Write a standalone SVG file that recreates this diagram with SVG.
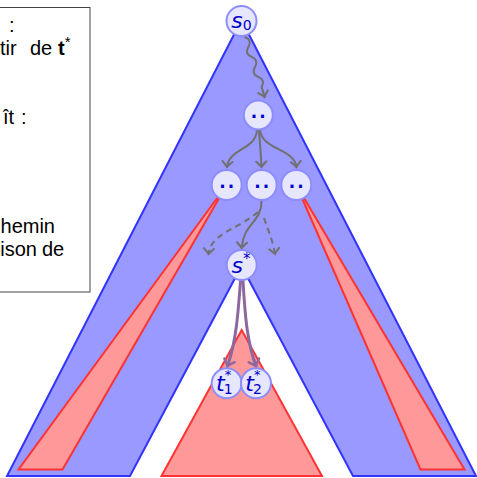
<svg xmlns="http://www.w3.org/2000/svg" width="477" height="478" viewBox="0 0 477 478">
<style>
.legend{font-family:"Liberation Sans",sans-serif;font-size:20px;fill:#000}
.node circle{fill:#e6e6ff;stroke:#8c8cff;stroke-width:2}
.lbl{font-family:"DejaVu Sans",sans-serif;font-size:22px;font-style:italic;fill:#0000cc}
.up{font-style:normal}
.dots{font-family:"DejaVu Sans",sans-serif;font-size:17px;fill:#0000cc;font-weight:bold;letter-spacing:2px}
.g{fill:none;stroke:#707070;stroke-width:2;stroke-linecap:round}
.p{fill:none;stroke:#8c68a0;stroke-width:3;stroke-linecap:round}
.dash{stroke-dasharray:6 4.5;stroke-linecap:butt}
.blue{fill:#9999ff;stroke:#3333ff;stroke-width:2;stroke-linejoin:miter}
.red{fill:#ff9999;stroke:#ff3333;stroke-width:2;stroke-linejoin:miter}
</style>
<defs>
<marker id="ag" viewBox="-7 -7 9 14" markerWidth="9" markerHeight="14" refX="0" refY="0" orient="auto" markerUnits="userSpaceOnUse">
<path d="M-5.5,-5 Q-1.5,-1 0,0 Q-1.5,1 -5.5,5" fill="none" stroke="#707070" stroke-width="2" stroke-linecap="round"/>
</marker>
<marker id="ap" viewBox="-8 -8 10 16" markerWidth="10" markerHeight="16" refX="0" refY="0" orient="auto" markerUnits="userSpaceOnUse">
<path d="M-6,-5.5 Q-1.5,-1 0,0 Q-1.5,1 -6,5.5" fill="none" stroke="#8c68a0" stroke-width="2.5" stroke-linecap="round"/>
</marker>
</defs>

<g id="legend">
<rect x="-10" y="7.5" width="100" height="284.5" fill="#fff" stroke="#444" stroke-width="1"/>
<text class="legend" x="9" y="32">:</text>
<text class="legend" y="55"><tspan x="0">tir</tspan><tspan x="30">de</tspan><tspan x="58" font-weight="bold">t</tspan><tspan font-size="15" dy="-8">*</tspan></text>
<text class="legend" y="124"><tspan x="14" text-anchor="end">ît</tspan><tspan x="21">:</tspan></text>
<text class="legend" x="55" y="232.5" text-anchor="end">hemin</text>
<text class="legend" y="255.5"><tspan x="37" text-anchor="end">ison</tspan><tspan x="42">de</tspan></text>
</g>

<g id="shapes">
<path class="blue" d="M241.5,20 L7,476 L130,476 L241.5,266 L353,476 L476,476 Z"/>
<path class="red" d="M226.7,185 L18.5,469.5 L62.5,469.5 Z"/>
<path class="red" d="M296.3,185 L464.5,469.5 L420.5,469.5 Z"/>
<path class="red" d="M241.7,330 L161.5,476 L322,476 Z"/>
</g>

<g id="connectors">
<path class="g" marker-end="url(#ag)" d="M245,37 Q252.35,40.08 248.32,46.96 T251.64,56.93 T254.95,66.89 T258.27,76.85 T261.59,86.82 L264.6,97"/>
<path class="g" marker-end="url(#ag)" d="M257,130 C256,150 229,148 227,167"/>
<path class="g" marker-end="url(#ag)" d="M259,130 C260,145 261,155 261.5,167"/>
<path class="g" marker-end="url(#ag)" d="M260,130 C262,150 294,148 296.5,167"/>
<path class="g" marker-end="url(#ag)" d="M261.5,201 C262,222 243,224 241.7,248"/>
<path class="g dash" marker-end="url(#ag)" d="M258,212 C240,228 210,234 208.5,254"/>
<path class="g dash" marker-end="url(#ag)" d="M264,218 C268,230 273,241 275,254"/>
<path class="p" marker-end="url(#ap)" d="M240.5,281 C238,315 236,342 227.5,366"/>
<path class="p" marker-end="url(#ap)" d="M243,281 C245,315 247,342 256,366"/>
</g>

<g id="n_s0" class="node">
<circle cx="241.5" cy="21" r="15"/>
<text class="lbl" x="241.5" y="27.5" text-anchor="middle">s<tspan class="up" font-size="14" dy="2.5">0</tspan></text>
</g>
<g id="n_a" class="node">
<circle cx="258.3" cy="115" r="14.5"/>
<text class="dots" x="259.3" y="118" text-anchor="middle">..</text>
</g>
<g id="n_b1" class="node">
<circle cx="226.7" cy="185" r="15"/>
<text class="dots" x="227.7" y="188" text-anchor="middle">..</text>
</g>
<g id="n_b2" class="node">
<circle cx="261.7" cy="185" r="15"/>
<text class="dots" x="262.7" y="188" text-anchor="middle">..</text>
</g>
<g id="n_b3" class="node">
<circle cx="296.3" cy="185" r="15"/>
<text class="dots" x="297.3" y="188" text-anchor="middle">..</text>
</g>
<g id="n_s" class="node">
<circle cx="241.7" cy="265" r="15"/>
<text class="lbl" x="241" y="272.5" text-anchor="middle">s<tspan class="up" font-size="15" dy="-9">*</tspan></text>
</g>
<g id="n_t1" class="node">
<circle cx="226.7" cy="383.3" r="15"/>
<text class="lbl" x="216" y="390.5">t<tspan class="up" font-size="13" dy="-12">*</tspan><tspan class="up" font-size="14" dx="-7.5" dy="15">1</tspan></text>
</g>
<g id="n_t2" class="node">
<circle cx="256" cy="383.3" r="15"/>
<text class="lbl" x="245.3" y="390.5">t<tspan class="up" font-size="13" dy="-12">*</tspan><tspan class="up" font-size="14" dx="-7.5" dy="15">2</tspan></text>
</g>
</svg>
